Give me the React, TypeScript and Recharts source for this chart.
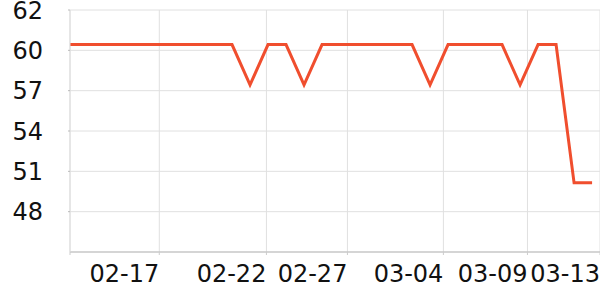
import React from 'react';
import { LineChart, Line, XAxis, YAxis, CartesianGrid } from 'recharts';

const values: number[] = [
  60, 60, 60, 60, 60, 60, 60, 60, 60, 60,
  57.2, 60, 60, 57.2, 60, 60, 60, 60, 60, 60,
  57.2, 60, 60, 60, 60, 57.2, 60, 60, 50.4, 50.4,
];

const xTickPositions: number[] = [0, 4.96, 10.91, 15.41, 20.74, 25.41, 29.44];
const xTickLabels: string[] = ['', '02-17', '02-22', '02-27', '03-04', '03-09', '03-13'];

const yTicks: number[] = [48.4, 51.2, 54, 56.8, 59.6, 62.4];
const yDomain: [number, number] = [45.6, 62.4];

const data = values.map((v, i) => ({ x: i, v }));

const FONT = "'DejaVu Sans', sans-serif";

const XTick = (props: any) => {
  const { x, y, payload } = props;
  const idx = xTickPositions.indexOf(payload.value);
  const label = idx >= 0 ? xTickLabels[idx] : '';
  return (
    <text x={x} y={y} dy="0.71em" textAnchor="end" fontSize={24} fontFamily={FONT} fill="#111">
      {label}
    </text>
  );
};

const YTick = (props: any) => {
  const { x, y, payload } = props;
  return (
    <text x={x} y={y} dy="0.355em" textAnchor="end" fontSize={24} fontFamily={FONT} fill="#111">
      {Math.round(payload.value)}
    </text>
  );
};

export default function App() {
  return (
    <div style={{ position: 'absolute', left: 0, top: 0, width: 600, height: 300 }}>
      <LineChart width={600} height={300} data={data} margin={{ top: 10, right: 0, left: 0, bottom: 0 }}>
        <CartesianGrid stroke="#e0e0e0" strokeWidth={1} />
        <XAxis
          dataKey="x"
          type="number"
          domain={[0, 29.44]}
          ticks={xTickPositions}
          interval={0}
          allowDataOverflow
          height={48}
          tickSize={3}
          tickMargin={10}
          axisLine={{ stroke: '#bbbbbb' }}
          tickLine={{ stroke: '#cccccc' }}
          tick={<XTick />}
        />
        <YAxis
          type="number"
          domain={yDomain}
          ticks={yTicks}
          interval={0}
          allowDataOverflow
          width={70}
          tickSize={2}
          tickMargin={25}
          axisLine={{ stroke: '#dddddd' }}
          tickLine={{ stroke: '#bbbbbb' }}
          tick={<YTick />}
        />
        <Line
          type="linear"
          dataKey="v"
          stroke="#f04e2e"
          strokeWidth={3}
          dot={false}
          activeDot={false}
          isAnimationActive={false}
        />
      </LineChart>
    </div>
  );
}
